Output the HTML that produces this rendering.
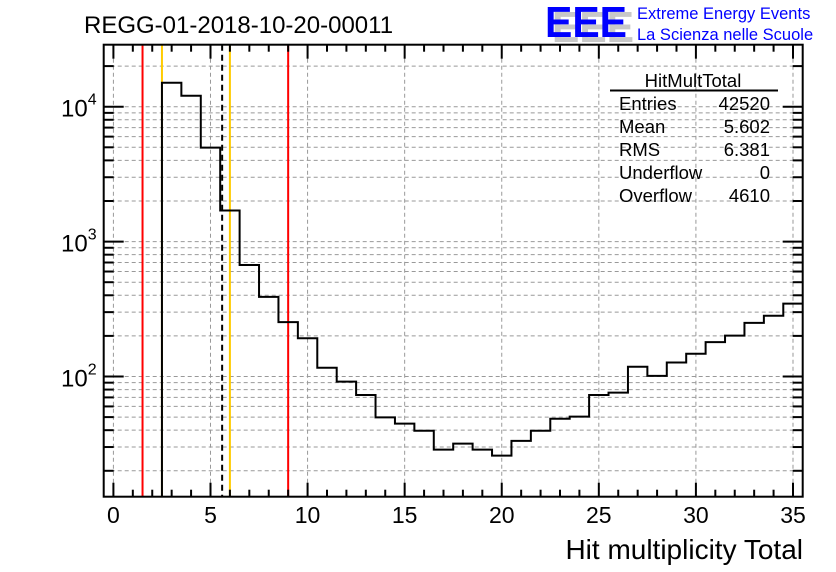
<!DOCTYPE html>
<html><head><meta charset="utf-8"><style>
body{margin:0;background:#fff;}
svg{display:block;font-family:"Liberation Sans",sans-serif;}
</style></head><body>
<svg id="c" width="836" height="572" viewBox="0 0 836 572" xmlns="http://www.w3.org/2000/svg">
<text x="84" y="33" font-size="24">REGG-01-2018-10-20-00011</text>
<g>
<text x="552" y="42" font-size="44" font-weight="bold" fill="#c8c8c8" textLength="82" lengthAdjust="spacingAndGlyphs">EEE</text>
<text x="545" y="37" font-size="44" font-weight="bold" fill="#0000ff" textLength="82" lengthAdjust="spacingAndGlyphs">EEE</text>
<text x="637" y="19" font-size="16.5" fill="#0000ff">Extreme Energy Events</text>
<text x="637" y="40" font-size="16.5" fill="#0000ff">La Scienza nelle Scuole</text>
</g>
<g id="grid"></g>
<g id="marks"></g>
<g id="axes"></g>
<g font-size="18.5">
<text x="693" y="87" text-anchor="middle">HitMultTotal</text>
<line x1="610" y1="90.5" x2="778" y2="90.5" stroke="#000" stroke-width="2"/>
<text x="619" y="110">Entries</text><text x="770" y="110" text-anchor="end">42520</text>
<text x="619" y="133">Mean</text><text x="770" y="133" text-anchor="end">5.602</text>
<text x="619" y="156">RMS</text><text x="770" y="156" text-anchor="end">6.381</text>
<text x="619" y="179">Underflow</text><text x="770" y="179" text-anchor="end">0</text>
<text x="619" y="202">Overflow</text><text x="770" y="202" text-anchor="end">4610</text>
</g>
<text x="803" y="559" font-size="28" text-anchor="end">Hit multiplicity Total</text>
</svg>
<script>
const binLow = -0.5, binWidth = 1;
const counts = [0,0,0,15060,12060,4970,1700,671,389,253,192,116,91.6,73,49.8,44.7,39.6,28.7,31.8,28.7,25.9,33.3,39.6,48.6,50.4,73,75.9,118,101,127,147.5,180,201,250,282,347];
const xTicks = [0,5,10,15,20,25,30,35];
const yDecades = [2,3,4];
const redLines = [1.5, 9];
const orangeLines = [2.5, 6];
const meanLine = [5.6];

const L=103.7,R=802.7,T=44.7,B=496.7;
const xmin=-0.5,xmax=35.5;
const X=v=>L+(v-xmin)/(xmax-xmin)*(R-L);
const Y=v=>376.5-(Math.log10(v)-2)*134.9;
const NS="http://www.w3.org/2000/svg";
function mk(tag,attrs,parent){const e=document.createElementNS(NS,tag);for(const k in attrs)e.setAttribute(k,attrs[k]);parent.appendChild(e);return e;}
const grid=document.getElementById('grid'),marks=document.getElementById('marks'),axes=document.getElementById('axes');
const gs={stroke:"#999","stroke-width":1,"stroke-dasharray":"4,3"};
xTicks.forEach(t=>{const l=mk('line',Object.assign({x1:X(t),x2:X(t),y1:T,y2:B},gs),grid);

});
for(let d=1;d<=4;d++)for(let m=1;m<=9;m++){const v=m*Math.pow(10,d);const y=Y(v);if(y<T||y>B)continue;
const l=mk('line',Object.assign({x1:L,x2:R,y1:y,y2:y},gs),grid);

}
redLines.forEach(v=>{const l=mk('line',{x1:X(v),x2:X(v),y1:T,y2:B,stroke:"#ff0000","stroke-width":2},marks);

});
orangeLines.forEach(v=>{const l=mk('line',{x1:X(v),x2:X(v),y1:T,y2:B,stroke:"#ffcc00","stroke-width":2},marks);

});
// histogram
let d="";let started=false;
counts.forEach((c,i)=>{const x0=X(binLow+i*binWidth),x1=X(binLow+(i+1)*binWidth);
if(c<=0)return;const y=Math.max(T,Y(c));
if(!started){d+=`M${x0},${B}L${x0},${y}`;started=true;}else d+=`L${x0},${y}`;
d+=`L${x1},${y}`;});
const h=mk('path',{d:d,fill:"none",stroke:"#000","stroke-width":2},marks);


meanLine.forEach(v=>{const l=mk('line',{x1:X(v),x2:X(v),y1:T,y2:B,stroke:"#000","stroke-width":2,"stroke-dasharray":"6,4"},marks);

});
// frame
const fr=mk('rect',{x:L,y:T,width:R-L,height:B-T,fill:"none",stroke:"#000","stroke-width":2},axes);


for(let v=0;v<=35;v++){const len=(v%5===0)?14:7;const x=X(v);
mk('line',{x1:x,x2:x,y1:B,y2:B-len,stroke:"#000","stroke-width":2},axes);
mk('line',{x1:x,x2:x,y1:T,y2:T+len,stroke:"#000","stroke-width":2},axes);}
xTicks.forEach(t=>{const tx=mk('text',{x:X(t),y:523,"font-size":23,"text-anchor":"middle"},axes);tx.textContent=t;

});
for(let dd=1;dd<=4;dd++)for(let m=1;m<=9;m++){const v=m*Math.pow(10,dd);const y=Y(v);if(y<T||y>B)continue;const len=m===1?20:10;
mk('line',{x1:L,x2:L+len,y1:y,y2:y,stroke:"#000","stroke-width":2},axes);
mk('line',{x1:R,x2:R-len,y1:y,y2:y,stroke:"#000","stroke-width":2},axes);}
yDecades.forEach(e=>{const y=Y(Math.pow(10,e));const t=mk('text',{x:61,y:y+10,"font-size":24},axes);


t.textContent="10";const s=mk('tspan',{dy:-12,"font-size":16},t);s.textContent=e;});
</script>
</body></html>
